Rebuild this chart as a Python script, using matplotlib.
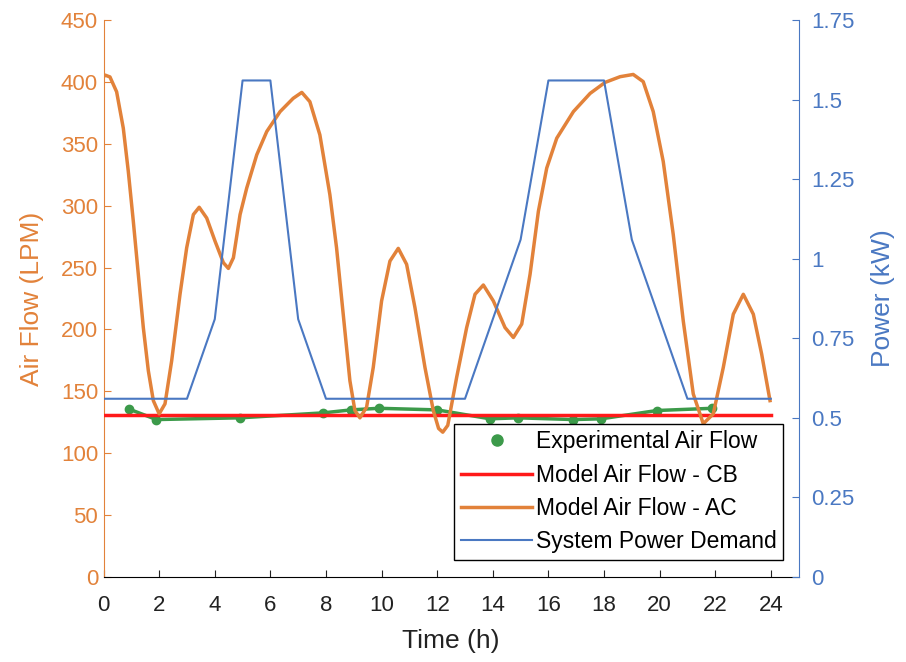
import numpy as np
import matplotlib.pyplot as plt
from matplotlib.lines import Line2D

plt.rcParams["font.family"] = ["Liberation Sans", "DejaVu Sans"]

ORANGE = "#E2823A"
BLUE = "#4A78C2"
GREEN = "#3C9A4A"
RED = "#FF1A1A"

# experimental air flow samples (h, LPM)
exp_t = [0.9, 1.9, 4.9, 7.9, 8.9, 9.9, 12.0, 13.9, 14.9, 16.9, 17.9, 19.9, 21.9]
exp_flow = [135.8, 127.2, 128.6, 132.6, 135.0, 136.3, 135.0, 127.8, 128.6, 127.2, 127.8, 134.5, 136.3]

# constant-blower model
cb_t = [0, 24]
cb_flow = [131, 131]

# adaptive-control model air flow (h, LPM)
ac_t = [0.0, 0.05, 0.23, 0.47, 0.71, 0.89, 1.07, 1.25, 1.43, 1.61, 1.79, 2.0,
        2.21, 2.45, 2.75, 2.99, 3.23, 3.44, 3.71, 4.01, 4.31, 4.49, 4.67, 4.91,
        5.15, 5.51, 5.87, 6.35, 6.82, 7.13, 7.42, 7.78, 8.14, 8.38, 8.62, 8.86,
        9.04, 9.22, 9.46, 9.70, 10.0, 10.3, 10.6, 10.9, 11.2, 11.56, 11.86, 12.05,
        12.2, 12.38, 12.7, 13.06, 13.36, 13.66, 14.02, 14.44, 14.74, 15.04, 15.34,
        15.64, 15.94, 16.3, 16.9, 17.5, 18.04, 18.58, 19.05, 19.41, 19.77, 20.13,
        20.49, 20.85, 21.21, 21.57, 21.93, 22.29, 22.65, 23.01, 23.37, 23.67, 23.97]
ac_flow = [404, 405.5, 404, 392, 362.6, 327.7, 287.4, 244.5, 201.5, 166.7, 142.5, 131.8,
           139.9, 174.7, 228.4, 266, 292.8, 298.7, 290, 271.3, 253.9, 249.3, 257.9, 292.8,
           314.3, 341.1, 359.9, 376, 386.7, 391.5, 384, 357.2, 308.9, 266, 212.3, 158.6,
           134.5, 128.6, 137.1, 169.3, 223, 255.2, 265.5, 252.6, 217.6, 169.3, 134.5, 120,
           117, 122.5, 161.3, 201.5, 228.4, 235.9, 223, 201.5, 193.5, 204.3, 244.5,
           295.5, 330.4, 354.5, 376, 390.7, 399.6, 404.2, 406, 400.2, 376, 335.7,
           276.7, 206.9, 147.9, 123.8, 131.8, 169.3, 212.3, 228.4, 212.3, 180.1, 142.5]

# system power demand (h, kW)
pw_t = list(range(25))
pw_kw = [0.56, 0.56, 0.56, 0.56, 0.81, 1.56, 1.56, 0.81, 0.56, 0.56, 0.56, 0.56, 0.56,
         0.56, 0.81, 1.06, 1.56, 1.56, 1.56, 1.06, 0.81, 0.56, 0.56, 0.56, 0.56]

fig = plt.figure(figsize=(9.06, 6.62), dpi=100)
ax = fig.add_axes([0.1143, 0.1284, 0.7672, 0.8414])
ax2 = ax.twinx()

ax.plot(exp_t, exp_flow, color=GREEN, lw=2.5, zorder=2)
ax.plot(exp_t, exp_flow, "o", color=GREEN, ms=6, zorder=2)
ax.plot(cb_t, cb_flow, color=RED, lw=2.5, zorder=3)
ax.plot(ac_t, ac_flow, color=ORANGE, lw=2.5, zorder=4, solid_joinstyle="round")
ax2.plot(pw_t, pw_kw, color=BLUE, lw=1.5)

ax.set_xlim(0, 25)
ax.set_ylim(0, 450)
ax2.set_ylim(0, 1.75)
ax.set_xticks(range(0, 25, 2))
ax.set_yticks(range(0, 451, 50))
ax2.set_yticks(np.arange(0, 1.76, 0.25))
ax2.set_yticklabels(["0", "0.25", "0.5", "0.75", "1", "1.25", "1.5", "1.75"])

for a in (ax, ax2):
    a.spines["top"].set_visible(False)
    a.tick_params(direction="in", length=5, labelsize=16)
ax.spines["left"].set_color(ORANGE)
ax.spines["right"].set_visible(False)
ax2.spines["left"].set_visible(False)
ax2.spines["right"].set_color(BLUE)
ax2.spines["bottom"].set_visible(False)
ax.tick_params(axis="y", colors=ORANGE, pad=4)
ax.tick_params(axis="x", colors="#222222", pad=13)
ax2.tick_params(axis="y", colors=BLUE, pad=9)

ax.set_xlabel("Time (h)", fontsize=19, color="#222222", labelpad=9)
ax.set_ylabel("Air Flow (LPM)", fontsize=19, color=ORANGE, labelpad=12)
ax2.set_ylabel("Power (kW)", fontsize=19, color=BLUE, labelpad=12)

handles = [
    Line2D([], [], ls="none", marker="o", color=GREEN, ms=8),
    Line2D([], [], color=RED, lw=2.5),
    Line2D([], [], color=ORANGE, lw=2.5),
    Line2D([], [], color=BLUE, lw=1.5),
]
labels = ["Experimental Air Flow", "Model Air Flow - CB",
          "Model Air Flow - AC", "System Power Demand"]
leg = ax2.legend(handles, labels, loc="lower right", bbox_to_anchor=(0.978, 0.03),
                 fontsize=16.5, frameon=True, fancybox=False, edgecolor="black",
                 framealpha=1, handlelength=3.1, handletextpad=0.15,
                 labelspacing=0.45, borderpad=0.3, borderaxespad=0)
leg.get_frame().set_linewidth(1.0)

fig.savefig("out.png", dpi=100)
